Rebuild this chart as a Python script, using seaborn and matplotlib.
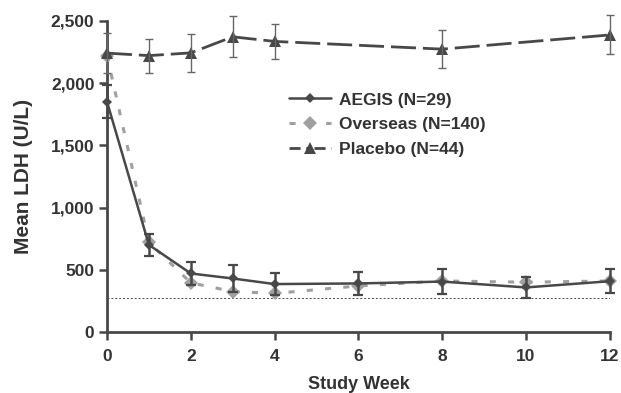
import matplotlib
matplotlib.use("Agg")
from matplotlib import pyplot as plt
from matplotlib.lines import Line2D
import pandas as pd
import seaborn as sns

# Data
weeks = [0, 1, 2, 3, 4, 6, 8, 10, 12]
aegis_mean = [1850, 700, 470, 430, 385, 390, 405, 358, 408]
aegis_err = [130, 90, 90, 110, 88, 90, 100, 85, 95]
overseas_mean = [2220, 720, 395, 325, 310, 370, 410, 400, 410]
placebo_weeks = [0, 1, 2, 3, 4, 8, 12]
placebo_mean = [2240, 2220, 2242, 2371, 2334, 2272, 2386]
placebo_err = [160, 136, 154, 164, 143, 150, 157]
uln = 270
labels = ['AEGIS (N=29)', 'Overseas (N=140)', 'Placebo (N=44)']
x_ticks = [0, 2, 4, 6, 8, 10, 12]
y_ticks = [0, 500, 1000, 1500, 2000, 2500]

DARK = '#484848'
LIGHT = '#a0a0a0'
TEXT = '#333333'

sns.set_style('ticks')
plt.rcParams['font.family'] = ['Liberation Sans', 'DejaVu Sans']
plt.rcParams['font.weight'] = 'bold'

df_aegis = pd.DataFrame({'week': weeks, 'ldh': aegis_mean})
df_over = pd.DataFrame({'week': weeks, 'ldh': overseas_mean})
df_plac = pd.DataFrame({'week': placebo_weeks, 'ldh': placebo_mean})

fig = plt.figure(figsize=(6.21, 3.93), dpi=100)
ax = fig.add_axes([0.1723, 0.1552, 0.8097, 0.7920])

# reference line (upper limit of normal)
ax.axhline(uln, color=DARK, lw=0.7, ls=(0, (2, 2)), zorder=1)

# overseas (short dashes, light gray)
sns.lineplot(data=df_over, x='week', y='ldh', ax=ax, color=LIGHT, lw=2.2,
             marker='D', markersize=7, markeredgewidth=0, linestyle=(0, (2, 4)),
             clip_on=False, zorder=3)

# AEGIS (solid, dark gray)
sns.lineplot(data=df_aegis, x='week', y='ldh', ax=ax, color=DARK, lw=1.8,
             marker='D', markersize=5, markeredgewidth=0, clip_on=False,
             zorder=4)
ax.errorbar(weeks, aegis_mean, yerr=aegis_err, fmt='none', ecolor=DARK,
            elinewidth=1.8, capsize=3.5, capthick=1.6, clip_on=False, zorder=4)

# placebo (long dashes, dark gray)
sns.lineplot(data=df_plac, x='week', y='ldh', ax=ax, color=DARK, lw=2.0,
             marker='^', markersize=8, markeredgewidth=0,
             linestyle=(0, (9, 2.5)), clip_on=False, zorder=4)
ax.errorbar(placebo_weeks, placebo_mean, yerr=placebo_err, fmt='none',
            ecolor='#666666', elinewidth=1.0, capsize=3, capthick=1.0,
            clip_on=False, zorder=4)

ax.set_xlim(0, 12)
ax.set_ylim(0, 2500)
ax.set_xticks(x_ticks)
ax.set_yticks(y_ticks)
ax.set_yticklabels([f'{v:,}' for v in y_ticks])
ax.tick_params(axis='both', labelsize=12.5, colors=DARK, labelcolor=TEXT,
               width=1.8, length=6, pad=3)
ax.tick_params(axis='x', pad=6)
for lab in ax.get_xticklabels() + ax.get_yticklabels():
    lab.set_fontweight('bold')

sns.despine(ax=ax)
for side in ['left', 'bottom']:
    ax.spines[side].set_linewidth(2.0)
    ax.spines[side].set_color(DARK)

ax.set_xlabel('Study Week', fontsize=13, fontweight='bold', color=TEXT,
              labelpad=9)
ax.set_ylabel('Mean LDH (U/L)', fontsize=15, fontweight='bold', color=TEXT,
              labelpad=13)

handles = [
    Line2D([], [], color=DARK, lw=1.8, marker='D', markersize=5,
           markeredgewidth=0),
    Line2D([], [], color=LIGHT, lw=2.2, marker='D', markersize=7,
           markeredgewidth=0, linestyle=(0, (2, 4))),
    Line2D([], [], color=DARK, lw=2.0, marker='^', markersize=8,
           markeredgewidth=0, linestyle=(0, (4, 2, 1, 2))),
]
leg = ax.legend(handles, labels, loc='upper left',
                bbox_to_anchor=(0.331, 0.82), frameon=False, fontsize=12.5,
                handlelength=2.4, handletextpad=0.5, labelspacing=0.55)
for t in leg.get_texts():
    t.set_color(TEXT)
    t.set_fontweight('bold')

fig.savefig('out.png', dpi=100)
